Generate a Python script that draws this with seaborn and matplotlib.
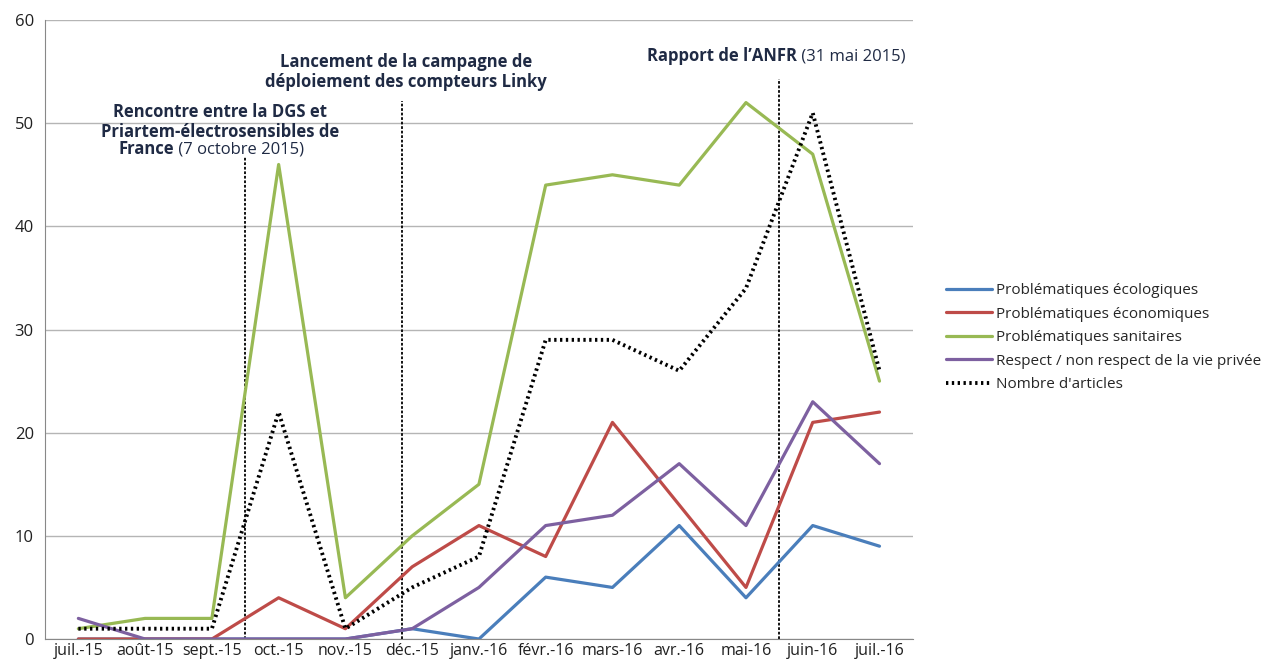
import numpy as np
import pandas as pd
import matplotlib.pyplot as plt
import seaborn as sns

# Données
mois = ['juil.-15', 'août-15', 'sept.-15', 'oct.-15', 'nov.-15', 'déc.-15', 'janv.-16',
        'févr.-16', 'mars-16', 'avr.-16', 'mai-16', 'juin-16', 'juil.-16']
ecologiques = [0, 0, 0, 0, 0, 1, 0, 6, 5, 11, 4, 11, 9]
economiques = [0, 0, 0, 4, 1, 7, 11, 8, 21, 13, 5, 21, 22]
sanitaires = [1, 2, 2, 46, 4, 10, 15, 44, 45, 44, 52, 47, 25]
vie_privee = [2, 0, 0, 0, 0, 1, 5, 11, 12, 17, 11, 23, 17]
nb_articles = [1, 1, 1, 22, 1, 5, 8, 29, 29, 26, 34, 51, 26]

noms = ['Problématiques écologiques', 'Problématiques économiques', 'Problématiques sanitaires',
        'Respect / non respect de la vie privée', "Nombre d'articles"]
series = [ecologiques, economiques, sanitaires, vie_privee, nb_articles]
couleurs = ['#4a7ebb', '#be4b48', '#98b954', '#7d60a0', '#000000']

# Événements (position sur l'axe des mois, hauteur du trait)
evenements_x = [2.5, 4.85, 10.5]
evenements_haut = [46.7, 52.2, 54.3]

sns.set_style('white')
plt.rcParams['font.family'] = ['Open Sans', 'DejaVu Sans']

fig = plt.figure(figsize=(12.67, 6.62), dpi=100)
ax = fig.add_axes([0.0355, 0.0347, 0.685, 0.935])

pos = np.arange(len(mois))
for nom, val, coul in zip(noms, series, couleurs):
    df = pd.DataFrame({'x': pos, 'y': val})
    if nom == "Nombre d'articles":
        sns.lineplot(data=df, x='x', y='y', ax=ax, color=coul, lw=2.8,
                     linestyle=(0, (0.6, 0.9)), label=nom)
    else:
        sns.lineplot(data=df, x='x', y='y', ax=ax, color=coul, lw=2.3, label=nom)

for ex, eh in zip(evenements_x, evenements_haut):
    ax.plot([ex, ex], [0, eh], color='black', lw=1.3, linestyle=(0, (1.5, 1)), zorder=1)

ax.set_ylim(0, 60)
ax.set_xlim(-0.5, len(mois) - 0.5)
ax.set_yticks(range(0, 61, 10))
ax.set_xticks(pos)
ax.set_xticklabels(mois)
ax.set_xticks(np.arange(-0.5, len(mois), 1), minor=True)
ax.tick_params(axis='x', which='major', length=0, labelsize=11.5, pad=3, labelcolor='#202020')
ax.tick_params(axis='x', which='minor', length=5, color='#888888', direction='out')
ax.tick_params(axis='y', length=5, color='#888888', labelsize=12, labelcolor='#202020', pad=3)
ax.yaxis.grid(True, color='#b5b5b5', lw=1)
ax.set_axisbelow(True)
for s in ['top', 'right']:
    ax.spines[s].set_visible(False)
for s in ['left', 'bottom']:
    ax.spines[s].set_color('#888888')
ax.set_xlabel('')
ax.set_ylabel('')

# Annotations
bleu_fonce = '#1f2a44'
ax.text(2.12, 50.1, 'Rencontre entre la DGS et\nPriartem-électrosensibles de',
        ha='center', va='center', fontsize=12, fontweight='bold', color=bleu_fonce,
        linespacing=1.13)
t = ax.text(1.44, 47.5, 'France', ha='right', va='center', fontsize=12,
            fontweight='bold', color=bleu_fonce)
ax.annotate(' (7 octobre 2015)', xy=(1, 0.5), xycoords=t, ha='left', va='center',
            fontsize=12, color=bleu_fonce)

ax.text(4.91, 55.0, 'Lancement de la campagne de\ndéploiement des compteurs Linky',
        ha='center', va='center', fontsize=12, fontweight='bold', color=bleu_fonce,
        linespacing=1.13)

t = ax.text(10.76, 56.5, "Rapport de l\u2019ANFR", ha='right', va='center', fontsize=12,
            fontweight='bold', color=bleu_fonce)
ax.annotate(' (31 mai 2015)', xy=(1, 0.5), xycoords=t, ha='left', va='center',
            fontsize=12, color=bleu_fonce)

h, l = ax.get_legend_handles_labels()
ax.get_legend().remove()
fig.legend(h, l, loc='center left', bbox_to_anchor=(0.736, 0.49), frameon=False,
           fontsize=11, handlelength=3.0, handletextpad=0.25, labelspacing=0.55)

fig.savefig('out.png', dpi=100)
